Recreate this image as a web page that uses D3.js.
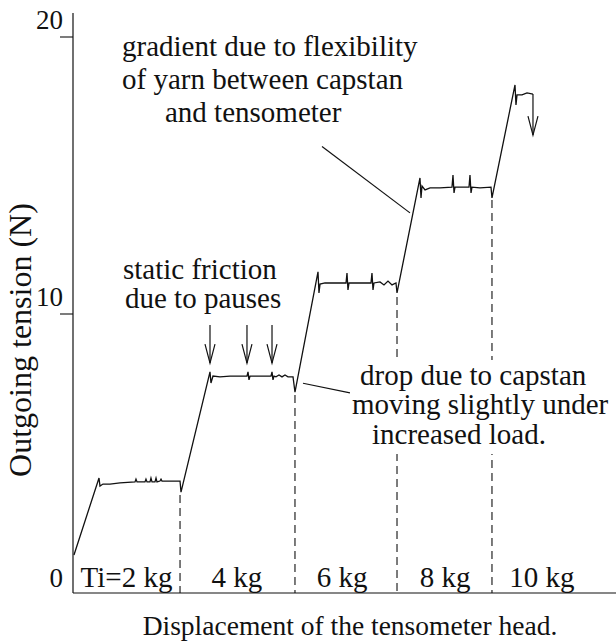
<!DOCTYPE html>
<html><head><meta charset="utf-8">
<script src="https://cdn.jsdelivr.net/npm/d3@7"></script>
<style>html,body{margin:0;padding:0;background:#fff} text{font-family:"Liberation Serif","DejaVu Serif",serif;}</style>
</head><body><svg id="c" width="616" height="643"></svg>
<script>
// ---- data ----
const yTicks = [0, 10, 20];
const yTickLabels = ["0", "10", "20"];
const loadLabels = ["Ti=2 kg", "4 kg", "6 kg", "8 kg", "10 kg"];
const loadLabelX = [9.85, 30.2, 49.54, 68.51, 86.37];
const boundaryX = [19.71, 40.88, 59.67, 77.16];
const boundaryTop = [3.47, 7.08, 10.61, 14.12];
// displacement (arbitrary units) and outgoing tension (N) of the recorded trace
const traceX = [0.18, 4.79, 4.97, 5.52, 6.81, 8.66, 11.42, 11.60, 11.79, 13.26, 13.44, 13.63, 14.18, 14.36, 14.55, 15.10, 15.29, 15.47, 16.02, 16.21, 16.39, 17.86, 19.71, 19.89,
  25.23, 25.41, 25.78, 27.07, 28.91, 30.76, 32.04, 32.23, 32.41, 32.60, 34.44, 36.46, 36.65, 36.83, 37.02, 37.38, 37.94, 38.49, 39.04, 39.59, 40.52, 40.88,
  45.12, 45.30, 45.49, 46.41, 48.25, 50.28, 50.46, 50.64, 50.83, 52.85, 54.88, 55.06, 55.25, 55.43, 56.54, 57.27, 58.01, 58.75, 59.48, 59.67,
  63.90, 64.09, 64.27, 64.83, 65.75, 67.59, 69.80, 69.98, 70.17, 70.35, 72.93, 73.11, 73.30, 73.48, 74.95, 76.98, 77.16,
  81.40, 81.58, 81.77, 82.69, 83.61, 84.71];
const traceY = [1.30, 4.08, 3.79, 3.86, 3.86, 3.90, 3.94, 4.04, 3.94, 3.94, 4.04, 3.94, 3.94, 4.08, 3.94, 3.94, 4.08, 3.94, 3.97, 4.04, 3.97, 3.97, 3.97, 3.57,
  7.91, 7.51, 7.76, 7.73, 7.76, 7.76, 7.76, 7.91, 7.62, 7.76, 7.76, 7.76, 7.91, 7.62, 7.76, 7.73, 7.80, 7.73, 7.80, 7.73, 7.73, 7.18,
  11.52, 10.76, 11.08, 11.12, 11.12, 11.12, 11.48, 10.87, 11.12, 11.12, 11.12, 11.48, 10.87, 11.12, 11.16, 11.05, 11.19, 11.05, 11.12, 10.76,
  14.91, 14.19, 14.62, 14.48, 14.55, 14.55, 14.58, 15.02, 14.37, 14.58, 14.58, 15.02, 14.37, 14.58, 14.55, 14.58, 14.19,
  18.27, 17.55, 17.91, 17.91, 17.98, 17.94];
const pauseArrowX = [25.23, 32.04, 36.65];
const pauseArrowFrom = 9.60, pauseArrowTo = 8.23;
const finalDropTo = 16.46;

// ---- layout ----
const svg = d3.select("#c");
const x = d3.scaleLinear().domain([0, 100]).range([73, 616]);
const y = d3.scaleLinear().domain([0, 20]).range([591, 37]);
const ink = "#111";

// axes
svg.append("line").attr("x1", x(0)).attr("x2", x(0)).attr("y1", 13).attr("y2", y(0) + 2)
  .attr("stroke", ink).attr("stroke-width", 1.2);
svg.append("line").attr("x1", x(0)).attr("x2", x(100)).attr("y1", y(0) + 2).attr("y2", y(0) + 2)
  .attr("stroke", ink).attr("stroke-width", 1.2);
svg.selectAll(".tick").data(yTicks.filter(d => d > 0)).join("line")
  .attr("x1", x(0) - 13).attr("x2", x(0)).attr("y1", d => y(d)).attr("y2", d => y(d))
  .attr("stroke", ink).attr("stroke-width", 1.1);
svg.selectAll(".tl").data(yTicks).join("text")
  .attr("x", x(0) - 10).attr("y", d => y(d) - (d === 0 ? 4 : 8))
  .attr("text-anchor", "end").attr("font-size", 27).attr("fill", ink)
  .text((d, i) => yTickLabels[i]);

// dashed boundaries
svg.selectAll(".bd").data(boundaryX).join("line")
  .attr("x1", d => x(d)).attr("x2", d => x(d))
  .attr("y1", (d, i) => y(boundaryTop[i])).attr("y2", y(0) + 2)
  .attr("stroke", ink).attr("stroke-width", 1.1).attr("stroke-dasharray", "8,5");

// trace
const pts = traceX.map((d, i) => [d, traceY[i]]);
svg.append("path").datum(pts)
  .attr("d", d3.line().x(d => x(d[0])).y(d => y(d[1])))
  .attr("fill", "none").attr("stroke", ink).attr("stroke-width", 1.3).attr("stroke-linejoin", "miter");

// arrows
function arrow(xv, y0v, y1v) {
  const px = x(xv), a = y(y0v), b = y(y1v);
  svg.append("line").attr("x1", px).attr("x2", px).attr("y1", a).attr("y2", b)
    .attr("stroke", ink).attr("stroke-width", 1.2);
  svg.append("path").attr("d", `M${px - 5},${b - 19}L${px},${b}L${px + 5},${b - 19}`)
    .attr("fill", "none").attr("stroke", ink).attr("stroke-width", 1.2);
}
pauseArrowX.forEach(d => arrow(d, pauseArrowFrom, pauseArrowTo));
arrow(traceX[traceX.length - 1], traceY[traceY.length - 1], finalDropTo);

// annotation leaders
svg.append("line").attr("x1", x(45.86)).attr("y1", y(16.05)).attr("x2", x(62.06)).attr("y2", y(13.65))
  .attr("stroke", ink).attr("stroke-width", 1.2);
svg.append("line").attr("x1", x(42.36)).attr("y1", y(7.5)).attr("x2", x(51.01)).attr("y2", y(7.15))
  .attr("stroke", ink).attr("stroke-width", 1.2);

// white knockout behind "drop" text
svg.append("rect").attr("x", 350).attr("y", 360).attr("width", 266).attr("height", 94).attr("fill", "#fff");

function textBlock(lines) {
  lines.forEach(([t, tx, ty]) => svg.append("text").attr("x", tx).attr("y", ty)
    .attr("font-size", 29).attr("fill", ink).text(t));
}
textBlock([["gradient due to flexibility", 122, 56], ["of yarn between capstan", 122, 89], ["and tensometer", 165, 122]]);
textBlock([["static friction", 123, 279], ["due to pauses", 125, 308]]);
textBlock([["drop due to capstan", 360, 385], ["moving slightly under", 352, 414], ["increased load.", 372, 444]]);

// load labels
svg.selectAll(".ll").data(loadLabels).join("text")
  .attr("x", (d, i) => x(loadLabelX[i])).attr("y", 587)
  .attr("text-anchor", "middle").attr("font-size", 29).attr("fill", ink)
  .text(d => d);

// axis titles
svg.append("text").attr("x", 350).attr("y", 635).attr("text-anchor", "middle")
  .attr("font-size", 27.5).attr("fill", ink)
  .text("Displacement of the tensometer head.");
svg.append("text").attr("transform", "translate(31,340) rotate(-90)").attr("text-anchor", "middle")
  .attr("font-size", 32).attr("fill", ink)
  .text("Outgoing tension (N)");
</script></body></html>
